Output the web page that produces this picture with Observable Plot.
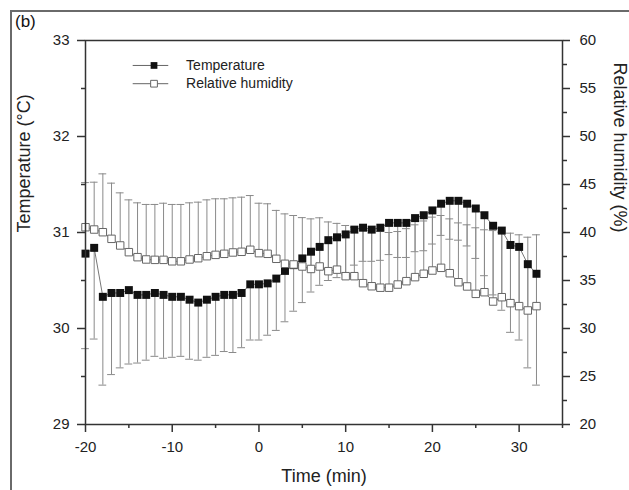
<!DOCTYPE html>
<html><head><meta charset="utf-8">
<script src="https://cdn.jsdelivr.net/npm/d3@7"></script>
<script src="https://cdn.jsdelivr.net/npm/@observablehq/plot@0.6"></script>
<style>
body{margin:0;background:#fff;}
#wrap{position:relative;width:629px;height:490px;overflow:hidden;font-family:Arial,"Liberation Sans",sans-serif;}
#border{position:absolute;left:10px;top:10px;width:700px;height:600px;border-left:2px solid #6a6a6a;border-top:2px solid #6a6a6a;pointer-events:none;}
#tag{position:absolute;left:15px;top:12px;font-size:17px;color:#111;}
#chart{position:absolute;left:0;top:0;}
</style></head><body>
<div id="wrap"><div id="chart"></div><div id="tag">(b)</div><div id="border"></div></div>
<script>
const time = [-20,-19,-18,-17,-16,-15,-14,-13,-12,-11,-10,-9,-8,-7,-6,-5,-4,-3,-2,-1,0,1,2,3,4,5,6,7,8,9,10,11,12,13,14,15,16,17,18,19,20,21,22,23,24,25,26,27,28,29,30,31,32];
const temperature = [30.78,30.84,30.33,30.37,30.37,30.40,30.35,30.35,30.37,30.35,30.33,30.33,30.30,30.27,30.30,30.33,30.35,30.35,30.37,30.46,30.46,30.47,30.52,30.60,30.66,30.73,30.80,30.85,30.92,30.95,30.98,31.03,31.05,31.03,31.05,31.10,31.10,31.10,31.15,31.18,31.23,31.30,31.33,31.33,31.30,31.25,31.18,31.07,31.02,30.87,30.85,30.67,30.57];
const temperatureLow = [29.79,29.89,29.41,29.52,29.59,29.63,29.64,29.67,29.71,29.69,29.70,29.71,29.68,29.67,29.70,29.72,29.76,29.75,29.80,29.88,29.88,29.93,29.98,30.07,30.18,30.27,30.38,30.45,30.50,30.53,30.56,30.66,30.70,30.70,30.71,30.77,30.74,30.74,30.80,30.81,30.88,30.97,30.93,30.92,30.86,30.73,30.55,30.35,30.19,29.96,29.88,29.59,29.41];
const humidity = [40.55,40.31,40.03,39.34,38.65,37.95,37.43,37.19,37.15,37.15,37.0,37.0,37.19,37.32,37.53,37.67,37.78,37.92,37.99,38.2,37.85,37.78,37.26,36.74,36.67,36.46,36.2,36.46,35.97,36.13,35.45,35.45,34.72,34.4,34.25,34.25,34.58,34.93,35.35,35.7,36.04,36.32,35.76,34.82,34.38,33.61,33.78,32.81,33.26,32.64,32.33,31.88,32.33];
const humidityHigh = [45.2,45.24,46.11,45.14,44.13,43.4,43.09,42.92,42.92,43.05,42.92,42.92,43.09,43.16,43.4,43.51,43.51,43.61,43.68,43.85,43.05,42.99,42.3,41.94,41.77,41.55,41.42,41.53,41.1,40.95,40.73,40.55,40.4,40.2,40.1,40.0,40.1,40.4,40.8,41.2,41.6,41.77,41.42,41.0,40.8,40.49,40.28,40.2,40.03,39.93,39.76,39.51,39.76];
const xTicks = [-20,-10,0,10,20,30];
const xMinorTicks = [-15,-5,5,15,25,35];
const tempTicks = [29,30,31,32,33];
const tempMinorTicks = [29.5,30.5,31.5,32.5];
const rhTicks = [20,25,30,35,40,45,50,55,60];
const rhMinorTicks = [22.5,27.5,32.5,37.5,42.5,47.5,52.5,57.5];
const seriesNames = ["Temperature","Relative humidity"];
const xLabel = "Time (min)";
const yLabel = "Temperature (°C)";
const y2Label = "Relative humidity (%)";

// map relative humidity onto the temperature scale (20–60 % ↔ 29–33 °C)
const rhToT = v => 29 + (v - 20) / 10;
const tToRh = v => String(Math.round((v - 29) * 10 + 20));
const plain = v => String(v);

const rows = time.map((t, i) => ({
  t, temp: temperature[i], tempLow: temperatureLow[i],
  rh: rhToT(humidity[i]), rhHigh: rhToT(humidityHigh[i])
}));
const legend = seriesNames.map((name, i) => ({name, i}));
const legendY = i => 32.74 - i * 0.19;

const capHalf = 0.45;
const barColor = "#8a8a8a";
const lineColor = "#777";
const axisColor = "#333";

const plot = Plot.plot({
  width: 629, height: 490,
  marginLeft: 85, marginRight: 67, marginTop: 40, marginBottom: 66,
  x: {domain: [-20, 35]},
  y: {domain: [29, 33]},
  style: {fontFamily: "Arial, 'Liberation Sans', sans-serif", fontSize: "15px", background: "white", color: "#222"},
  marks: [
    // error bars
    Plot.ruleX(rows, {x: "t", y1: "temp", y2: "tempLow", stroke: barColor, strokeWidth: 1}),
    Plot.ruleY(rows, {y: "tempLow", x1: d => d.t - capHalf, x2: d => d.t + capHalf, stroke: barColor, strokeWidth: 1}),
    Plot.ruleX(rows, {x: "t", y1: "rh", y2: "rhHigh", stroke: barColor, strokeWidth: 1}),
    Plot.ruleY(rows, {y: "rhHigh", x1: d => d.t - capHalf, x2: d => d.t + capHalf, stroke: barColor, strokeWidth: 1}),
    // lines
    Plot.line(rows, {x: "t", y: "temp", stroke: lineColor, strokeWidth: 1}),
    Plot.line(rows, {x: "t", y: "rh", stroke: lineColor, strokeWidth: 1}),
    // markers
    Plot.dot(rows, {x: "t", y: "temp", symbol: "square", r: 4.5, fill: "#111", stroke: "none"}),
    Plot.dot(rows, {x: "t", y: "rh", symbol: "square", r: 4.2, fill: "white", stroke: "#666", strokeWidth: 1}),
    // legend
    Plot.ruleY(legend, {y: d => legendY(d.i), x1: -14.5, x2: -10.4, stroke: "#666", strokeWidth: 1}),
    Plot.dot(legend, {x: -12.1, y: d => legendY(d.i), symbol: "square", r: 3.8,
      fill: d => d.i === 0 ? "#111" : "white", stroke: d => d.i === 0 ? "none" : "#666", strokeWidth: 1}),
    Plot.text(legend, {x: -8.4, y: d => legendY(d.i), text: "name", textAnchor: "start", fontSize: 14, fill: "#222"}),
    // frame & axes
    Plot.frame({stroke: axisColor, strokeWidth: 1.5}),
    Plot.axisX({ticks: xTicks, tickFormat: plain, tickSize: 8, tickPadding: 9, label: null, stroke: axisColor, strokeWidth: 1.5, fontSize: 15}),
    Plot.axisX({ticks: xMinorTicks, tickSize: 4, tickFormat: () => "", label: null, stroke: axisColor, strokeWidth: 1.5}),
    Plot.axisY({ticks: tempTicks, tickFormat: plain, tickSize: 8, tickPadding: 8, label: null, stroke: axisColor, strokeWidth: 1.5, fontSize: 15}),
    Plot.axisY({ticks: tempMinorTicks, tickSize: 4, tickFormat: () => "", label: null, stroke: axisColor, strokeWidth: 1.5}),
    Plot.axisY({anchor: "right", ticks: rhTicks.map(rhToT), tickFormat: tToRh, tickSize: 7, tickPadding: 10, label: null, stroke: axisColor, strokeWidth: 1.5, fontSize: 15}),
    Plot.axisY({anchor: "right", ticks: rhMinorTicks.map(rhToT), tickSize: 4, tickFormat: () => "", label: null, stroke: axisColor, strokeWidth: 1.5}),
    // axis titles
    Plot.text([xLabel], {text: d => d, frameAnchor: "bottom", dy: 52, lineAnchor: "middle", fontSize: 18, fill: "#222"}),
    Plot.text([yLabel], {text: d => d, frameAnchor: "left", dx: -61, rotate: -90, lineAnchor: "middle", fontSize: 18, fill: "#222"}),
    Plot.text([y2Label], {text: d => d, frameAnchor: "right", dx: 57, rotate: 90, lineAnchor: "middle", fontSize: 18, fill: "#222"})
  ]
});
document.getElementById("chart").appendChild(plot);
</script>
</body></html>
